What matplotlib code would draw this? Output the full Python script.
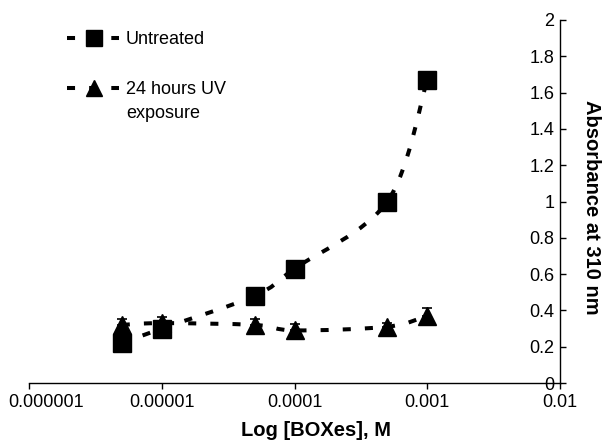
import numpy as np
import matplotlib
matplotlib.use("Agg")
import matplotlib.pyplot as plt
import matplotlib.transforms as mtransforms
from matplotlib.path import Path
from matplotlib.patches import PathPatch
from matplotlib.lines import Line2D

plt.rcParams["font.family"] = ["Liberation Sans", "DejaVu Sans"]

# Dados
concentracao = [5e-6, 1e-5, 5e-5, 1e-4, 5e-4, 1e-3]
untreated = [0.22, 0.30, 0.48, 0.63, 1.00, 1.67]
uv_24h = [0.32, 0.33, 0.32, 0.29, 0.31, 0.37]
uv_erro = [0.035, 0.035, 0.035, 0.035, 0.02, 0.045]

x_ticks = [1e-6, 1e-5, 1e-4, 1e-3, 1e-2]
x_tick_labels = ["0.000001", "0.00001", "0.0001", "0.001", "0.01"]
y_ticks = [0, 0.2, 0.4, 0.6, 0.8, 1, 1.2, 1.4, 1.6, 1.8, 2]
y_tick_labels = ["0", "0.2", "0.4", "0.6", "0.8", "1", "1.2", "1.4", "1.6", "1.8", "2"]

W, H = 608, 441
LW = 2.9
DASH = (2.0, 3.5)


def px(x, y):
    """Pixels (a partir do canto superior esquerdo) -> coordenadas da figura."""
    return x / W, 1 - y / H


def curva_suave(ax, xs, ys):
    """Linha suavizada (estilo Excel) com curvas de Bezier no espaço log."""
    lx = np.log10(xs)
    ys = np.asarray(ys, dtype=float)
    n = len(lx)
    verts = [(xs[0], ys[0])]
    codes = [Path.MOVETO]
    for i in range(n - 1):
        p0 = (lx[max(i - 1, 0)], ys[max(i - 1, 0)])
        p1 = (lx[i], ys[i])
        p2 = (lx[i + 1], ys[i + 1])
        p3 = (lx[min(i + 2, n - 1)], ys[min(i + 2, n - 1)])
        c1 = (p1[0] + (p2[0] - p0[0]) / 6, p1[1] + (p2[1] - p0[1]) / 6)
        c2 = (p2[0] - (p3[0] - p1[0]) / 6, p2[1] - (p3[1] - p1[1]) / 6)
        verts += [(10 ** c1[0], c1[1]), (10 ** c2[0], c2[1]), (10 ** p2[0], p2[1])]
        codes += [Path.CURVE4] * 3
    patch = PathPatch(Path(verts, codes), facecolor="none", edgecolor="black",
                      linewidth=LW, linestyle=(0, DASH), capstyle="butt", zorder=2,
                      transform=ax.transData)
    ax.add_patch(patch)


fig = plt.figure(figsize=(W / 100, H / 100), dpi=100)
ax = fig.add_axes([29 / W, 1 - 383 / H, (560 - 29) / W, (383 - 20) / H])

ax.set_xscale("log")
ax.set_xlim(1e-6, 1e-2)
ax.set_ylim(0, 2)

curva_suave(ax, concentracao, untreated)
curva_suave(ax, concentracao, uv_24h)

ax.errorbar(concentracao, uv_24h, yerr=[np.zeros(len(uv_erro)), uv_erro],
            fmt="none", ecolor="black", elinewidth=1.2, capsize=3.5, capthick=1.2, zorder=3)
ax.plot(concentracao, uv_24h, linestyle="none", marker="^", markersize=12.5,
        color="black", zorder=4)
ax.plot(concentracao, untreated, linestyle="none", marker="s", markersize=13,
        color="black", zorder=5)

# Eixos no estilo Excel: eixo Y à direita com rótulos à esquerda
for s in ["top", "right"]:
    ax.spines[s].set_visible(False)
ax.spines["left"].set_position(("axes", 1.0))
ax.spines["left"].set_linewidth(1.0)
ax.spines["bottom"].set_linewidth(1.0)

ax.set_xticks(x_ticks)
ax.set_xticklabels(x_tick_labels)
ax.xaxis.set_minor_locator(matplotlib.ticker.NullLocator())
ax.set_yticks(y_ticks)
ax.set_yticklabels(y_tick_labels)
ax.tick_params(axis="x", direction="out", length=4, width=1, labelsize=13, pad=4)
ax.tick_params(axis="y", direction="in", length=4, width=1, labelsize=13, pad=4)

# Primeiro rótulo do eixo X deslocado para dentro da figura (como no original)
primeiro = ax.get_xticklabels()[0]
primeiro.set_transform(primeiro.get_transform()
                       + mtransforms.ScaledTranslation(17.5 / 100, 0, fig.dpi_scale_trans))

fig.text(*px(316, 436), "Log [BOXes], M", ha="center", va="baseline",
         fontsize=14.5, fontweight="bold")
fig.text(*px(592, 207), "Absorbance at 310 nm", rotation=270,
         ha="center", va="center", fontsize=14.5, fontweight="bold")

# Legenda desenhada à mão (marcador alinhado com a primeira linha do texto)
legenda = [("s", 11, 38, ["Untreated"]),
           ("^", 11, 88, ["24 hours UV", "exposure"])]
for marcador, tam, yl, linhas in legenda:
    x0, y0 = px(67, yl)
    x1, _ = px(119, yl)
    xm, _ = px(94, yl)
    fig.add_artist(Line2D([x0, x1], [y0, y0], transform=fig.transFigure, color="black",
                          linewidth=LW, linestyle=(0, DASH), dash_capstyle="butt"))
    fig.add_artist(Line2D([xm], [y0], transform=fig.transFigure, color="black",
                          marker=marcador, markersize=tam, linestyle="none"))
    for k, texto in enumerate(linhas):
        fig.text(*px(126, yl + 6.5 + 23 * k), texto, ha="left", va="baseline", fontsize=13)

fig.savefig("out.png", dpi=100)
